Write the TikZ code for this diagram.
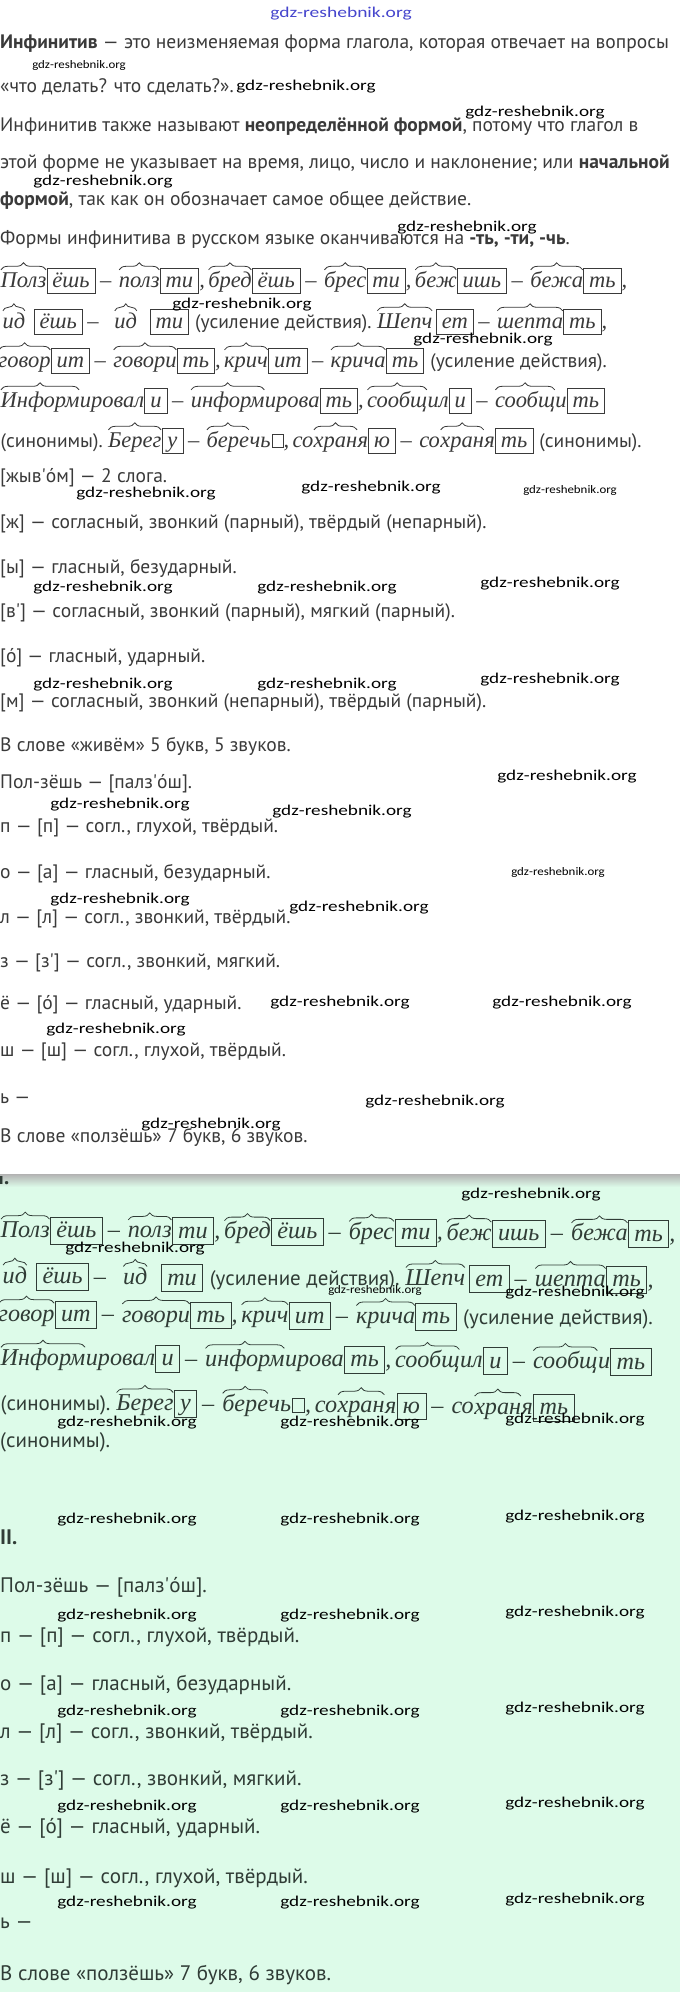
\documentclass[tikz,border=0pt]{standalone}
\usepackage{fontspec}
\setmainfont{PT Sans}
\newfontfamily\serf{Liberation Serif}
\newfontfamily\wm{Carlito}
\usetikzlibrary{decorations.pathreplacing}
\definecolor{ink}{RGB}{58,58,58}
\definecolor{inkg}{RGB}{48,60,54}
\definecolor{mint}{RGB}{221,251,233}
\definecolor{wmblue}{RGB}{70,70,205}
\colorlet{cur}{ink}
\newcounter{mc}
\def\lastn{m0}
\newcommand\mStart[1]{\stepcounter{mc}\xdef\lastn{m\arabic{mc}}\node[inner sep=0pt, minimum size=0pt, anchor=base west] (\lastn) at (#1) {};}
\newcommand\mPut[2]{\stepcounter{mc}\xdef\prevn{\lastn}\xdef\lastn{m\arabic{mc}}\node[#1, anchor=base west] (\lastn) at (\prevn.base east) {#2};}
\newcommand\mRoot[1]{\mPut{itw}{#1}\draw[rootbrace] ([xshift=0.5pt]\lastn.north west) -- ([xshift=-0.5pt]\lastn.north east);}
\newcommand\mEnd[1]{\mPut{endbox}{#1}}
\newcommand\mIt[1]{\mPut{itw}{#1}}
\newcommand\mSf[1]{\mPut{sfw}{#1}}
\newcommand\mSq{\mPut{sqbox}{}}
\newcommand\mGap[1]{\mIt{\hspace{#1}\null}}
\newcommand\mDash{\mIt{\hspace{4.5pt}\upshape–\hspace{7pt}\null}}
\newcommand\mComma{\mIt{,\hspace{3pt}\null}}
\newcommand\RowOne{\mRoot{Полз}\mEnd{ёшь}\mDash\mRoot{полз}\mEnd{ти}\mComma\mRoot{бред}\mEnd{ёшь}\mDash\mRoot{брес}\mEnd{ти}\mComma\mRoot{беж}\mEnd{ишь}\mDash\mRoot{бежа}\mEnd{ть}\mIt{,}}
\newcommand\RowTwo{\mRoot{ид}\mGap{8pt}\mEnd{ёшь}\mDash\mGap{8pt}\mRoot{ид}\mGap{12pt}\mEnd{ти}\mSf{\hspace{6pt}(усиление действия).\hspace{5pt}\null}\mRoot{Шепч}\mGap{3pt}\mEnd{ет}\mDash\mRoot{шепта}\mEnd{ть}\mIt{,}}
\newcommand\RowThree{\mRoot{говор}\mEnd{ит}\mDash\mRoot{говори}\mEnd{ть}\mComma\mRoot{крич}\mEnd{ит}\mDash\mRoot{крича}\mEnd{ть}\mSf{\hspace{6pt}(усиление действия).}}
\newcommand\RowFour{\mRoot{Информ}\mIt{ировал}\mEnd{и}\mDash\mRoot{информ}\mIt{ирова}\mEnd{ть}\mComma\mRoot{сообщ}\mIt{ил}\mEnd{и}\mDash\mRoot{сообщ}\mIt{и}\mEnd{ть}}
\newcommand\RowFive{\mSf{(синонимы).\hspace{5pt}\null}\mRoot{Берег}\mEnd{у}\mDash\mRoot{бере}\mIt{чь}\mSq\mComma\mIt{со}\mRoot{хран}\mIt{я}\mEnd{ю}\mDash\mIt{со}\mRoot{хран}\mIt{я}\mEnd{ть}}
\tikzset{
  body/.style={inner sep=0pt, anchor=base west, text=ink, font=\fontsize{19.5}{23}\selectfont},
  bodyg/.style={inner sep=0pt, anchor=base west, text=inkg, font=\fontsize{21}{25}\selectfont},
  wmk/.style={inner sep=0pt, text=black, xscale=1.28, font=\wm\fontsize{15}{18}\selectfont},
  wms/.style={inner sep=0pt, text=black, xscale=1.12, font=\wm\fontsize{11.5}{14}\selectfont},
  itw/.style={inner sep=0pt, text=cur, text height=15pt, text depth=5pt, font=\serf\itshape\fontsize{22.5}{27}\selectfont},
  sfw/.style={inner sep=0pt, text=cur, font=\fontsize{19.5}{23}\selectfont},
  endbox/.style={draw=cur, line width=0.7pt, text=cur, inner xsep=5.5pt, inner ysep=2pt, text height=17pt, text depth=4pt, font=\serf\itshape\fontsize{22.5}{27}\selectfont},
  sqbox/.style={draw=cur, line width=0.6pt, inner sep=0pt, minimum width=11pt, text height=13pt, text depth=0pt, xshift=1pt},
  rootbrace/.style={draw=cur, line width=0.8pt, decorate, decoration={brace, amplitude=7pt, raise=2pt}}
}
\begin{document}
\begin{tikzpicture}[x=1pt,y=-1pt]
\useasboundingbox (0,0) rectangle (680,1992);
\fill[white] (0,0) rectangle (680,1175);
\fill[mint] (0,1175) rectangle (680,1992);
\shade[top color=black!30, bottom color=mint] (0,1174) rectangle (680,1187);
% white section
\node[inner sep=0pt, text=wmblue, xscale=1.3, font=\wm\fontsize{15}{18}\selectfont] (top) at (341,14) {gdz-reshebnik.org};
\node[body] (t1) at (0,48) {\textbf{Инфинитив} — это неизменяемая форма глагола, которая отвечает на вопросы};
\node[body] (t2) at (0,92) {«что делать? что сделать?».};
\node[body] (t3) at (0,131) {Инфинитив также называют \textbf{неопределённой формой}, потому что глагол в};
\node[body] (t4) at (0,168) {этой форме не указывает на время, лицо, число и наклонение; или \textbf{начальной}};
\node[body] (t5) at (0,205) {\textbf{формой}, так как он обозначает самое общее действие.};
\node[body] (t6) at (0,244) {Формы инфинитива в русском языке оканчиваются на \textbf{-ть, -ти, -чь}.};
\mStart{0,287}\RowOne
\mStart{2,328}\RowTwo
\mStart{-2,367}\RowThree
\mStart{0,407}\RowFour
\mStart{0,447}\RowFive\mSf{\hspace{6pt}(синонимы).}
\node[body] (t7) at (0,482) {[жыв\textquotesingle óм] — 2 слога.};
\node[body] (t8) at (0,528) {[ж] — согласный, звонкий (парный), твёрдый (непарный).};
\node[body] (t9) at (0,573) {[ы] — гласный, безударный.};
\node[body] (t10) at (0,617) {[в\textquotesingle] — согласный, звонкий (парный), мягкий (парный).};
\node[body] (t11) at (0,662) {[ó] — гласный, ударный.};
\node[body] (t12) at (0,707) {[м] — согласный, звонкий (непарный), твёрдый (парный).};
\node[body] (t13) at (0,751) {В слове «живём» 5 букв, 5 звуков.};
\node[body] (t14) at (0,788) {Пол-зёшь — [палз\textquotesingle óш].};
\node[body] (t15) at (0,832) {п — [п] — согл., глухой, твёрдый.};
\node[body] (t16) at (0,878) {о — [а] — гласный, безударный.};
\node[body] (t17) at (0,923) {л — [л] — согл., звонкий, твёрдый.};
\node[body] (t18) at (0,967) {з — [з\textquotesingle] — согл., звонкий, мягкий.};
\node[body] (t19) at (0,1009) {ё — [ó] — гласный, ударный.};
\node[body] (t20) at (0,1056) {ш — [ш] — согл., глухой, твёрдый.};
\node[body] (t21) at (0,1103) {ь —};
\node[body] (t22) at (0,1142) {В слове «ползёшь» 7 букв, 6 звуков.};
% green section
\begin{scope}
\clip (-5,1176) rectangle (60,1200);
\node[bodyg, font=\bfseries\fontsize{21}{25}\selectfont] (g0) at (-2,1184) {I.};
\end{scope}
\begin{scope}[scale=1.075, transform shape]
\colorlet{cur}{inkg}
\mStart{0,1150.7}\RowOne
\mStart{1.9,1193.5}\RowTwo
\mStart{-1.9,1228.8}\RowThree
\mStart{0,1269.8}\RowFour
\mStart{0,1311.6}\RowFive
\end{scope}
\node[bodyg] (g1) at (0,1447) {(синонимы).};
\node[bodyg, font=\bfseries\fontsize{21}{25}\selectfont] (g2) at (0,1544) {II.};
\node[bodyg] (g3) at (0,1592) {Пол-зёшь — [палз\textquotesingle óш].};
\node[bodyg] (g4) at (0,1642) {п — [п] — согл., глухой, твёрдый.};
\node[bodyg] (g5) at (0,1690) {о — [а] — гласный, безударный.};
\node[bodyg] (g6) at (0,1738) {л — [л] — согл., звонкий, твёрдый.};
\node[bodyg] (g7) at (0,1785) {з — [з\textquotesingle] — согл., звонкий, мягкий.};
\node[bodyg] (g8) at (0,1833) {ё — [ó] — гласный, ударный.};
\node[bodyg] (g9) at (0,1883) {ш — [ш] — согл., глухой, твёрдый.};
\node[bodyg] (g10) at (0,1928) {ь —};
\node[bodyg] (g11) at (0,1980) {В слове «ползёшь» 7 букв, 6 звуков.};
% watermarks
\foreach \p [count=\i] in {(306,87),(535,113),(103,182),(467,228),(242,305),(483,340),(146,494),(371,488),(103,588),(327,588),(550,584),(103,685),(327,685),(550,680),(567,777),(120,805),(342,812),(120,900),(359,908),(340,1003),(562,1003),(116,1030),(435,1102),(211,1125),(531,1195),(135,1249),(575,1293),(127,1423),(350,1423),(575,1420),(127,1520),(350,1520),(575,1517),(127,1616),(350,1616),(575,1613),(127,1712),(350,1712),(575,1709),(127,1807),(350,1807),(575,1804),(127,1903),(350,1903),(575,1900)}
  \node[wmk] (w\i) at \p {gdz-reshebnik.org};
\foreach \p [count=\i] in {(79,65),(570,490),(558,872),(375,1290)}
  \node[wms] (ws\i) at \p {gdz-reshebnik.org};
\end{tikzpicture}
\end{document}
